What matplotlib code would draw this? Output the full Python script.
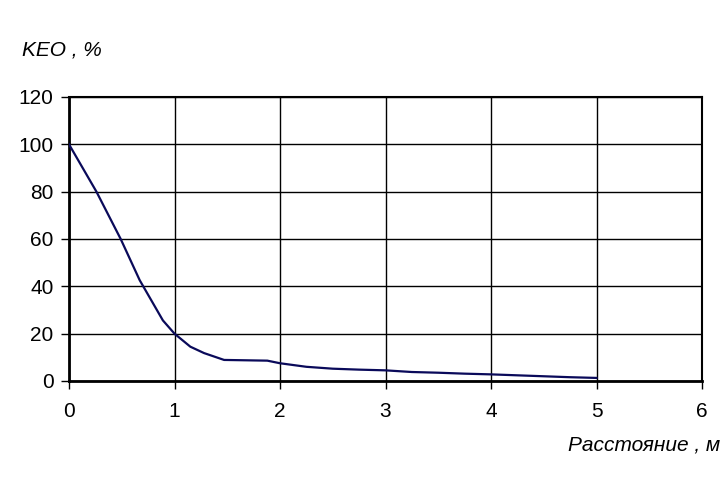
import matplotlib
matplotlib.use("Agg")
import matplotlib.pyplot as plt

# distance, m  /  KEO, %
dist = [0, 0.26, 0.49, 0.67, 0.89, 1.0, 1.15, 1.28, 1.47, 1.88, 2.0, 2.25,
        2.5, 2.75, 3.0, 3.25, 3.5, 3.75, 4.0, 4.25, 4.5, 4.75, 5.0]
keo = [100, 80, 60, 42.6, 25.6, 20, 14.5, 11.8, 8.9, 8.6, 7.5, 6.0,
       5.2, 4.8, 4.5, 3.8, 3.5, 3.1, 2.8, 2.4, 2.0, 1.6, 1.3]
xticks = [0, 1, 2, 3, 4, 5, 6]
yticks = [0, 20, 40, 60, 80, 100, 120]

plt.rcParams['font.family'] = ['Liberation Sans', 'DejaVu Sans']

fig = plt.figure(figsize=(7.2, 5.04), dpi=100)
ax = fig.add_axes([69 / 720, 1 - 381 / 504, (702 - 69) / 720, (381 - 97) / 504])

ax.plot(dist, keo, color='#0a0a5a', lw=1.6, zorder=3)

ax.set_xlim(0, 6)
ax.set_ylim(0, 120)
ax.set_xticks(xticks)
ax.set_yticks(yticks)
ax.grid(True, color='black', lw=1.0)
ax.set_axisbelow(True)

for side in ['left', 'bottom']:
    ax.spines[side].set_linewidth(2.0)
for side in ['top', 'right']:
    ax.spines[side].set_linewidth(1.5)

ax.tick_params(axis='both', direction='out', length=6, width=1,
               labelsize=15, colors='black')
ax.tick_params(axis='x', pad=9)
ax.tick_params(axis='y', pad=5)

fig.text(22 / 720, 1 - 50 / 504, 'KEO , %', fontsize=15, style='italic',
         ha='left', va='center')
fig.text(720 / 720, 1 - 445 / 504, 'Расстояние , м', fontsize=15,
         style='italic', ha='right', va='center')

fig.savefig('out.png', dpi=100)
